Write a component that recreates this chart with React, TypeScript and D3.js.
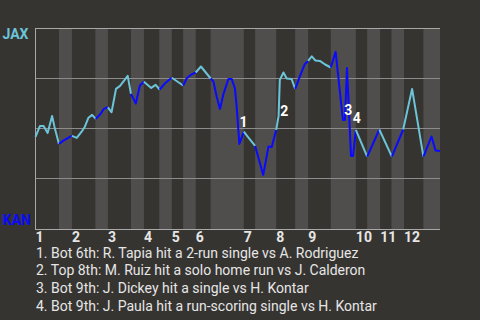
import React from "react";
import * as d3 from "d3";

// ---- data ----
const teamTop = "JAX";
const teamBottom = "KAN";
const inningLabels = ["1", "2", "3", "4", "5", "6", "7", "8", "9", "10", "11", "12"];
// start of each half-inning, in % of game progress
const halfStarts = [0, 5.8, 9.0, 14.8, 17.9, 23.6, 26.8, 30.6, 33.7, 36.5, 39.6, 43.3, 51.5, 54.3, 59.5, 64.2, 67.4, 73.0, 79.2, 82.0, 85.2, 88.0, 91.1, 95.9];
const gameEnd = 100;
const playsPerHalf = [7, 3, 6, 3, 5, 3, 3, 2, 1, 3, 2, 10, 2, 4, 6, 3, 5, 7, 1, 1, 1, 1, 2, 3];
const playPos = [
  0, 1.1, 2.0, 3.0, 4.1, 4.7, 5.8,
  6.8, 8.5, 9.0,
  10.2, 11.4, 12.2, 13.1, 14.0, 14.9,
  16.0, 16.9, 17.9,
  18.8, 19.9, 20.9, 22.8, 23.6,
  24.8, 25.8, 26.8,
  28.6, 29.7, 30.7,
  32.0, 33.7,
  36.5,
  37.4, 38.6, 39.6,
  40.9, 43.3,
  44.0, 44.8, 45.6, 46.4, 47.7, 48.5, 49.3, 49.7, 50.4, 51.5,
  52.5, 54.3,
  56.3, 57.6, 58.4, 59.5,
  60.1, 60.4, 61.3, 62.1, 63.3, 64.2,
  65.4, 66.6, 67.4,
  68.3, 69.2, 70.3, 71.6, 73.0,
  74.2, 76.0, 76.5, 77.0, 78.0, 78.5, 79.2,
  82.0,
  85.0,
  88.1,
  90.9,
  93.1, 95.9,
  97.9, 98.9, 100,
];
const jaxWinPct = [
  45.8, 51.3, 51.3, 47.8, 56.3, 50.8, 42.3,
  43.8, 45.8, 46.3,
  45.3, 48.4, 50.9, 55.4, 56.8, 54.8,
  57.1, 59.8, 60.6,
  58.1, 69.8, 71.3, 76.3, 67.3,
  62.5, 71.5, 73.4,
  70.3, 71.8, 69.5,
  72.6, 75.4,
  71.5,
  75.1, 77.1, 78.0,
  81.0, 75.0,
  73.4, 65.9, 59.8, 66.8, 74.8, 74.8, 70.1, 61.8, 42.3, 48.4,
  45.8, 41.3,
  26.8, 41.0, 40.8, 49.3,
  56.3, 74.3, 78.0, 75.0, 74.8, 69.8,
  76.3, 82.3, 83.8,
  86.1, 84.0, 83.8, 82.0, 80.5,
  88.3, 54.3, 54.3, 80.3, 36.3, 36.3, 49.3,
  35.9,
  49.5,
  35.9,
  49.5,
  69.8, 35.9,
  46.0, 39.0, 38.8,
];
const eventMarks = ["1", "2", "3", "4"];
const eventPos = [51.4, 61.5, 77.3, 79.4];
const eventWP = [50.9, 56.3, 56.8, 52.6];
const footnotes = [
  "1. Bot 6th: R. Tapia hit a 2-run single vs A. Rodriguez",
  "2. Top 8th: M. Ruiz hit a solo home run vs J. Calderon",
  "3. Bot 9th: J. Dickey hit a single vs H. Kontar",
  "4. Bot 9th: J. Paula hit a run-scoring single vs H. Kontar",
];
const yGrid = [25, 50, 75];

// ---- style ----
const W = 480;
const H = 320;
const BG = "#363431";
const BAND = "#504e4c";
const GRID = "#8c8c8c";
const BORDER = "#a8a8a8";
const TOP_COLOR = "#6cc4d8";
const BOTTOM_COLOR = "#0a0aff";
const TEXT = "#e6e6e6";
const FONT = "Roboto, 'Noto Sans', sans-serif";

export default function App() {
  const left = 35.5;
  const right = 440;
  const top = 28.5;
  const bottom = 228.5;
  const x = d3.scaleLinear().domain([0, gameEnd]).range([left, right]);
  const y = d3.scaleLinear().domain([0, 100]).range([bottom, top]);

  const ends = halfStarts.slice(1).concat([gameEnd]);
  const line = d3
    .line<[number, number]>()
    .x((d) => x(d[0]))
    .y((d) => y(d[1]));

  const segments: { pts: [number, number][]; h: number }[] = [];
  let idx = 0;
  playsPerHalf.forEach((n, h) => {
    const pts: [number, number][] = [];
    if (idx > 0) pts.push([playPos[idx - 1], jaxWinPct[idx - 1]]);
    for (let k = 0; k < n; k++) pts.push([playPos[idx + k], jaxWinPct[idx + k]]);
    idx += n;
    segments.push({ pts, h });
  });

  return (
    <>
      <style>{`body{margin:0;background:${BG};}`}</style>
      <svg width={W} height={H} style={{ display: "block", background: BG }} fontFamily={FONT}>
        <rect x={0} y={0} width={W} height={H} fill={BG} />
        {halfStarts.map((s, i) =>
          i % 2 === 1 ? (
            <rect key={i} x={x(s)} y={top + 0.5} width={x(ends[i]) - x(s)} height={bottom + 1 - top} fill={BAND} />
          ) : null
        )}
        {yGrid.map((g) => (
          <line key={g} x1={left} x2={right} y1={y(g)} y2={y(g)} stroke={GRID} strokeWidth={1} />
        ))}
        <line x1={left - 0.5} x2={right} y1={top} y2={top} stroke={BORDER} strokeWidth={1} />
        <line x1={left - 0.5} x2={right} y1={bottom + 1} y2={bottom + 1} stroke={BORDER} strokeWidth={1} />
        <line x1={left} x2={left} y1={top} y2={bottom + 1.5} stroke={BORDER} strokeWidth={1} />
        {segments.map((s) => (
          <path
            key={s.h}
            d={line(s.pts) || ""}
            fill="none"
            stroke={s.h % 2 === 0 ? TOP_COLOR : BOTTOM_COLOR}
            strokeWidth={2}
            strokeLinejoin="round"
          />
        ))}
        {eventMarks.map((m, i) => (
          <text key={m} x={x(eventPos[i])} y={y(eventWP[i])} fill="#ffffff" fontSize={14} fontWeight="bold" textAnchor="middle">
            {m}
          </text>
        ))}
        <text x={2.5} y={38.7} fill={TOP_COLOR} fontSize={14} fontWeight="bold">
          {teamTop}
        </text>
        <text x={2.5} y={224.5} fill={BOTTOM_COLOR} fontSize={14} fontWeight="bold">
          {teamBottom}
        </text>
        {inningLabels.map((lab, i) => (
          <text key={lab} x={x(halfStarts[i * 2])} y={241.5} fill={TEXT} fontSize={14} fontWeight="bold">
            {lab}
          </text>
        ))}
        {footnotes.map((f, i) => (
          <text key={i} x={36} y={257.5 + i * 17.8} fill={TEXT} fontSize={14}>
            {f}
          </text>
        ))}
      </svg>
    </>
  );
}
